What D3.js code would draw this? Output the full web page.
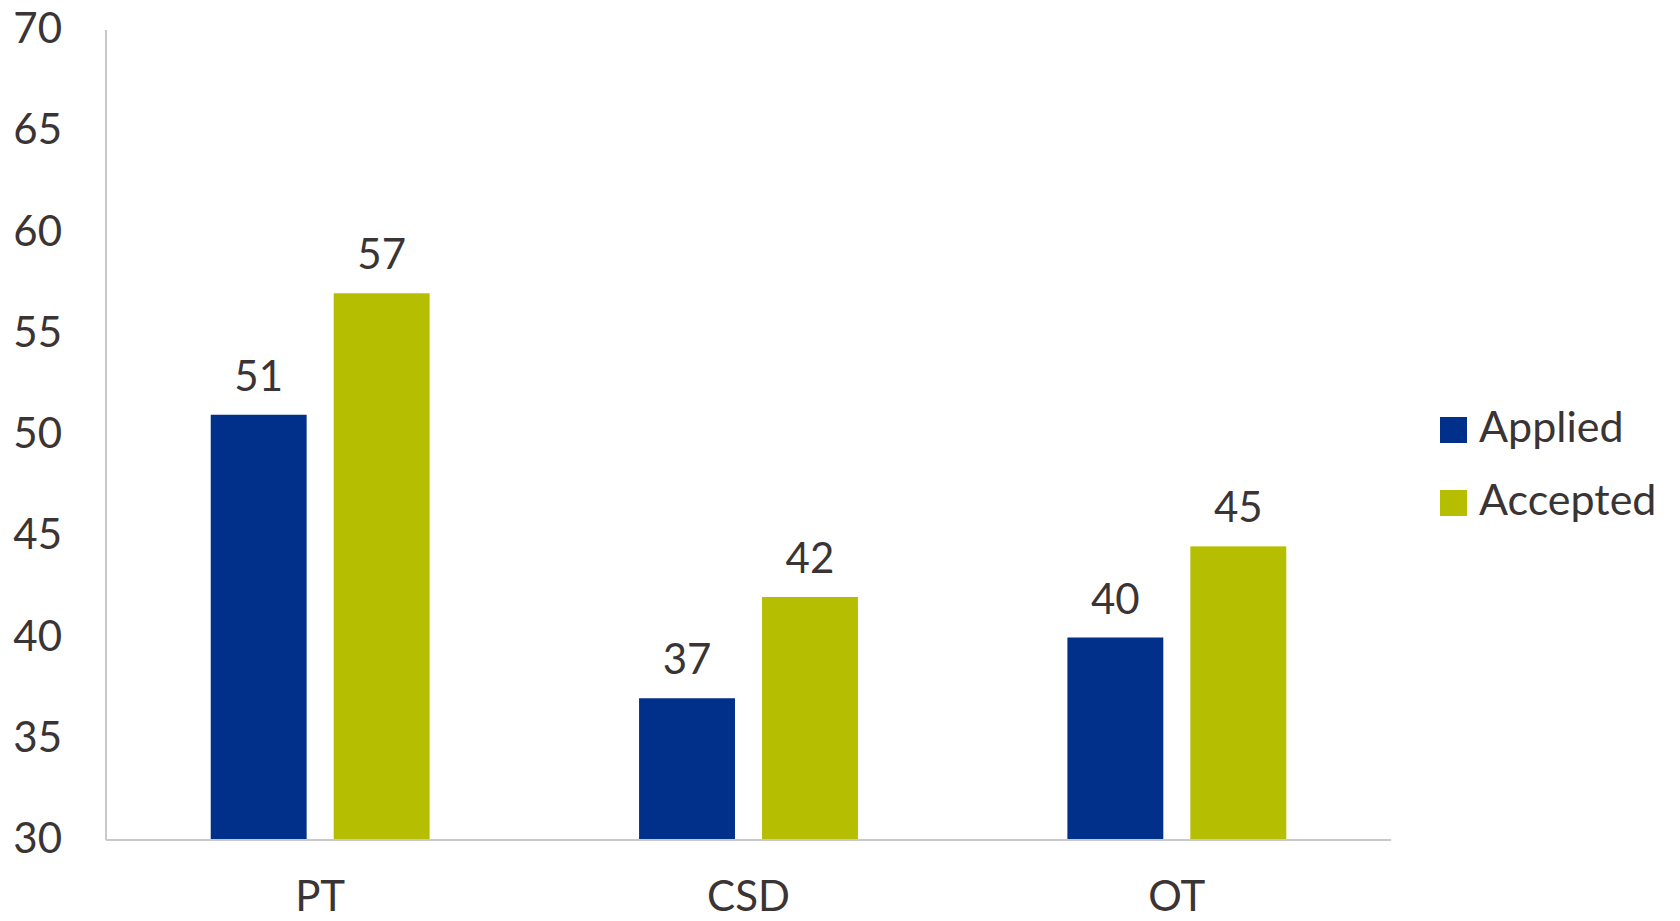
<!DOCTYPE html>
<html>
<head>
<meta charset="utf-8">
<script src="https://cdn.jsdelivr.net/npm/d3@7"></script>
<style>
  body { margin: 0; background: #fff; }
  text { font-family: Lato, "Open Sans", sans-serif; fill: #3b3434; }
</style>
</head>
<body>
<div id="container"></div>
<script>
var categories = ['PT', 'CSD', 'OT'];
var seriesNames = ['Applied', 'Accepted'];
var applied = [51, 37, 40];
var accepted = [57, 42, 44.5];
var yTicks = [30, 35, 40, 45, 50, 55, 60, 65, 70];
var colors = ['#00308a', '#b5be00'];

var width = 1680, height = 921;
var margin = {left: 106, right: 289, top: 30, bottom: 81};

var svg = d3.select('#container').append('svg')
  .attr('width', width)
  .attr('height', height);

var y = d3.scaleLinear()
  .domain([30, 70])
  .range([height - margin.bottom, margin.top]);

var x0 = d3.scaleBand()
  .domain(categories)
  .range([margin.left, width - margin.right])
  .padding(0);

// group of two bars sits in the middle ~51% of each band
var groupW = x0.bandwidth() * 0.511;
var x1 = d3.scaleBand()
  .domain(seriesNames)
  .range([(x0.bandwidth() - groupW) / 2, (x0.bandwidth() + groupW) / 2])
  .paddingInner(0.22)
  .paddingOuter(0);

var rows = categories.map(function(c, i) {
  return {cat: c, values: [applied[i], accepted[i]]};
});

// y axis labels (no ticks)
var yAxis = d3.axisLeft(y).tickValues(yTicks).tickSize(0).tickPadding(44);
svg.append('g')
  .attr('transform', 'translate(' + margin.left + ',0)')
  .call(yAxis)
  .call(function(g) { g.select('.domain').remove(); })
  .selectAll('text')
  .attr('font-size', 42)
  .attr('dy', '0.3em')
  .style('font-family', 'Lato, sans-serif')
  .attr('fill', '#3b3434');

// bars
var groups = svg.selectAll('.grp')
  .data(rows)
  .enter()
  .append('g')
  .attr('class', 'grp')
  .attr('transform', function(d) { return 'translate(' + x0(d.cat) + ',0)'; });

groups.selectAll('rect')
  .data(function(d) { return d.values.map(function(v, j) { return {s: seriesNames[j], v: v, j: j}; }); })
  .enter()
  .append('rect')
  .attr('x', function(d) { return x1(d.s); })
  .attr('y', function(d) { return y(d.v); })
  .attr('width', x1.bandwidth())
  .attr('height', function(d) { return y(30) - y(d.v); })
  .attr('fill', function(d) { return colors[d.j]; });

groups.selectAll('.val')
  .data(function(d) { return d.values.map(function(v, j) { return {s: seriesNames[j], v: v}; }); })
  .enter()
  .append('text')
  .attr('class', 'val')
  .attr('x', function(d) { return x1(d.s) + x1.bandwidth() / 2; })
  .attr('y', function(d) { return y(d.v) - 24; })
  .attr('text-anchor', 'middle')
  .attr('font-size', 42)
  .text(function(d) { return d3.format('.0f')(d.v); });

// axis lines
svg.append('line')
  .attr('x1', margin.left).attr('x2', margin.left)
  .attr('y1', y(70)).attr('y2', y(30))
  .attr('stroke', '#c9c9c9').attr('stroke-width', 2);
svg.append('line')
  .attr('x1', margin.left).attr('x2', width - margin.right)
  .attr('y1', y(30)).attr('y2', y(30))
  .attr('stroke', '#c9c9c9').attr('stroke-width', 2);

// category labels
svg.selectAll('.cat')
  .data(categories)
  .enter()
  .append('text')
  .attr('class', 'cat')
  .attr('x', function(d) { return x0(d) + x0.bandwidth() / 2; })
  .attr('y', 911)
  .attr('text-anchor', 'middle')
  .attr('font-size', 42)
  .text(function(d) { return d; });

// legend
var legend = svg.selectAll('.legend')
  .data(seriesNames)
  .enter()
  .append('g')
  .attr('class', 'legend')
  .attr('transform', function(d, i) { return 'translate(1440,' + (417 + i * 73) + ')'; });

legend.append('rect')
  .attr('width', 27)
  .attr('height', 26)
  .attr('fill', function(d, i) { return colors[i]; });

legend.append('text')
  .attr('x', 39)
  .attr('y', 25)
  .attr('font-size', 43)
  .text(function(d) { return d; });
</script>
</body>
</html>
